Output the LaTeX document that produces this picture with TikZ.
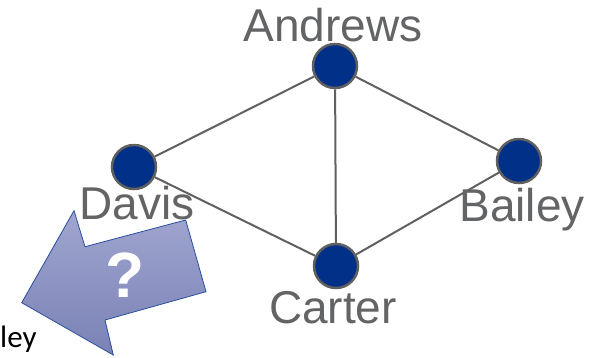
\documentclass[tikz,border=0pt]{standalone}
\usepackage{fontspec}
\setmainfont{Liberation Sans}
\newfontfamily\bodyfont{Carlito}

\definecolor{nodeblue}{HTML}{003087}
\definecolor{edgegray}{HTML}{606060}
\definecolor{labelgray}{HTML}{636466}
\definecolor{arrowtop}{HTML}{A0A6CF}
\definecolor{arrowbot}{HTML}{7A82B6}
\definecolor{arrowline}{HTML}{2A4E9E}

\tikzstyle{person}  = [ circle,draw=edgegray,fill=nodeblue,line width=2.5pt,
                        inner sep=0pt,minimum size=44pt]
\tikzstyle{caption} = [ text=labelgray,font=\fontsize{46}{54}\selectfont,
                        anchor=base,inner sep=0pt]
\tikzstyle{link}    = [ draw=edgegray,line width=2pt]

\begin{document}
\begin{tikzpicture}[x=1pt,y=-1pt]
  \useasboundingbox (0,0) rectangle (601,357);

  \node[person] at (335,66)  (andrews) {};
  \node[person] at (134,167) (davis)   {};
  \node[person] at (519,161) (bailey)  {};
  \node[person] at (336,266) (carter)  {};

  \draw[link] (andrews) -- (davis);
  \draw[link] (andrews) -- (bailey);
  \draw[link] (andrews) -- (carter);
  \draw[link] (davis) -- (carter);
  \draw[link] (bailey) -- (carter);

  \node[caption] at (333,41)  (andrewsname) {Andrews};
  \node[caption] at (137,219) (davisname)   {Davis};
  \node[caption] at (522,221) (baileyname)  {Bailey};
  \node[caption] at (333,323) (cartername)  {Carter};

  % big arrow pointing down left
  \draw[arrowline,line width=0.8pt,top color=arrowtop,bottom color=arrowbot]
    (21.7,302.7) -- (74,210.7) -- (85,246.7) -- (185.7,220) -- (206,291.7)
    -- (105,320) -- (113.3,355) -- cycle;
  \node[text=white,font=\fontsize{64}{72}\selectfont\bfseries,inner sep=0pt]
    at (125,275) (question) {?};

  \node[anchor=base west,inner sep=0pt,font=\bodyfont\fontsize{31}{36}\selectfont]
    at (0,347) (rest) {ley};
\end{tikzpicture}
\end{document}
